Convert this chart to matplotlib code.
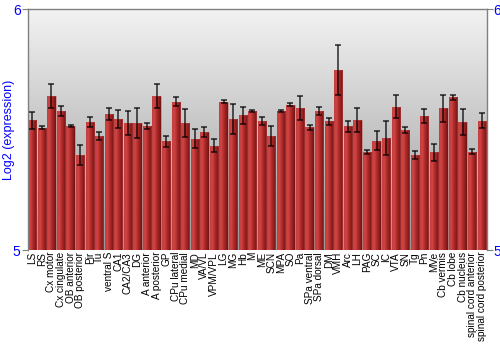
import numpy as np
import matplotlib
matplotlib.use("Agg")
import matplotlib.pyplot as plt
from matplotlib.colors import LinearSegmentedColormap

regions = ["LS", "RS", "Cx motor", "Cx cingulate", "OB anterior", "OB posterior",
           "Pir", "Tu", "ventral S", "CA1", "CA2/CA3", "DG", "A anterior",
           "A posterior", "GP", "CPu lateral", "CPu medial", "MD", "VA/VL",
           "VPM/VPL", "LG", "MG", "Hb", "M", "ME", "SCN", "MPA", "SO", "Pa",
           "SPa ventral", "SPa dorsal", "DM", "VMH", "Arc", "LH", "PAG", "SC",
           "IC", "VTA", "SN", "Tg", "Pn", "MVe", "Cb vermis", "Cb lobe",
           "Cb nucleus", "spinal cord anterior", "spinal cord posterior"]
values = [5.541, 5.510, 5.642, 5.579, 5.517, 5.396, 5.533, 5.476, 5.568, 5.546,
          5.529, 5.529, 5.517, 5.642, 5.453, 5.617, 5.529, 5.464, 5.493, 5.435,
          5.617, 5.547, 5.561, 5.579, 5.536, 5.474, 5.578, 5.604, 5.591, 5.511,
          5.579, 5.536, 5.748, 5.515, 5.543, 5.409, 5.456, 5.467, 5.597, 5.499,
          5.396, 5.558, 5.407, 5.590, 5.636, 5.535, 5.410, 5.539]
errors = [0.035, 0.005, 0.050, 0.021, 0.005, 0.041, 0.021, 0.016, 0.025, 0.037,
          0.049, 0.061, 0.012, 0.049, 0.023, 0.019, 0.060, 0.039, 0.021, 0.027,
          0.006, 0.062, 0.035, 0.006, 0.017, 0.041, 0.004, 0.006, 0.048, 0.011,
          0.015, 0.014, 0.104, 0.023, 0.050, 0.008, 0.039, 0.070, 0.047, 0.012,
          0.017, 0.030, 0.034, 0.057, 0.010, 0.054, 0.011, 0.030]
yticks = [5, 6]

fig = plt.figure(figsize=(5, 3.5), dpi=100)
ax = fig.add_axes([0.055, 0.2843, 0.918, 0.6886])
x = np.arange(len(regions))
ax.set_xlim(-0.5, len(regions) - 0.5)
ax.set_ylim(5, 6)

# background gradient
bg = LinearSegmentedColormap.from_list("bg", ["#989898", "#f3f3f3"])
ax.imshow(np.linspace(0, 1, 256).reshape(-1, 1), cmap=bg, aspect="auto",
          extent=(-0.5, len(regions) - 0.5, 5, 6), origin="lower", zorder=0)

bar_cmap = LinearSegmentedColormap.from_list(
    "bar", [(0, "#b83232"), (0.22, "#d24848"), (0.55, "#b02a2a"), (1.0, "#6e1414")])
bars = ax.bar(x, np.array(values) - 5, bottom=5, width=0.86, color="none",
              edgecolor=(0.8, 0.3, 0.3, 0.5), linewidth=0.6, zorder=2)
grad = np.linspace(0, 1, 64).reshape(1, -1)
for b in bars:
    x0, y0 = b.get_x(), b.get_y()
    w, h = b.get_width(), b.get_height()
    im = ax.imshow(grad, cmap=bar_cmap, aspect="auto",
                   extent=(x0, x0 + w, y0, y0 + h), zorder=1)
    im.set_clip_path(b)

ax.errorbar(x, values, yerr=errors, fmt="none", ecolor="black", alpha=0.75,
            elinewidth=1.2, capsize=2.5, capthick=1.2, zorder=3)

ax.set_xticks(x)
ax.set_xticklabels(regions, rotation=90, fontsize=7.2, family="Liberation Sans")
ax.tick_params(axis="x", length=0, pad=1)
ax.set_yticks(yticks)
ax.set_yticklabels([str(t) for t in yticks])
ax.tick_params(axis="y", colors="#808080", labelcolor="blue", labelsize=10,
               length=4, right=True, labelright=True, pad=1)
for lab in ax.get_yticklabels():
    lab.set_family("Liberation Sans")
ax.set_ylabel("Log2 (expression)", color="blue", fontsize=9,
              family="Liberation Sans")
ax.yaxis.set_label_coords(-0.027, 0.5)
for s in ax.spines.values():
    s.set_color("#808080")
    s.set_linewidth(1)
ax.spines["bottom"].set_visible(False)

fig.savefig("out.png", dpi=100)
